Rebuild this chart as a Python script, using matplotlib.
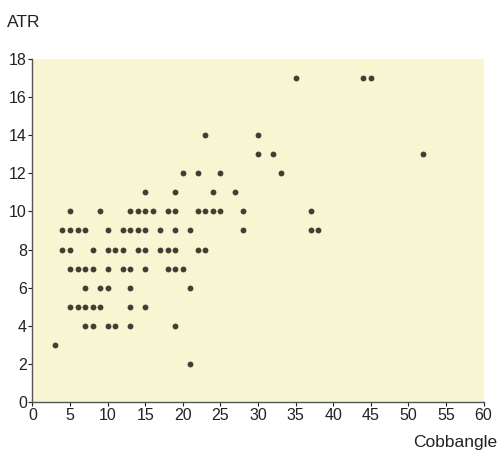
import matplotlib
matplotlib.use('Agg')
import matplotlib.pyplot as plt

plt.rcParams['font.family'] = ['Liberation Sans', 'DejaVu Sans']

# Cobb angle and ATR, grouped by ATR row
cobb_angle = [
    21,
    3,
    7, 8, 10, 11, 13, 19,
    5, 6, 7, 8, 9, 13, 15,
    7, 9, 10, 13, 21,
    5, 6, 7, 8, 10, 12, 13, 15, 18, 19, 20,
    4, 5, 8, 10, 11, 12, 14, 15, 17, 18, 19, 22, 23,
    4, 5, 6, 7, 10, 12, 13, 14, 15, 17, 19, 21, 28, 37, 38,
    5, 9, 13, 14, 15, 16, 18, 19, 22, 23, 24, 25, 28, 37,
    15, 19, 24, 27,
    20, 22, 25, 33,
    30, 32, 52,
    23, 30,
    35, 44, 45,
]
atr = (
    [2]
    + [3]
    + [4] * 6
    + [5] * 7
    + [6] * 5
    + [7] * 11
    + [8] * 13
    + [9] * 15
    + [10] * 14
    + [11] * 4
    + [12] * 4
    + [13] * 3
    + [14] * 2
    + [17] * 3
)

x_ticks = list(range(0, 61, 5))
y_ticks = list(range(0, 19, 2))

fig = plt.figure(figsize=(5.01, 4.61), dpi=100)
ax = fig.add_axes([0.0647, 0.1269, 0.9006, 0.7462])
ax.set_facecolor('#f7f5d2')

ax.plot(cobb_angle, atr, 'o', color='#3f3f33', markersize=4.2, markeredgewidth=0)

ax.set_xlim(0, 60)
ax.set_ylim(0, 18)
ax.set_xticks(x_ticks)
ax.set_yticks(y_ticks)
ax.tick_params(labelsize=11.5, length=3, width=0.8, pad=1, colors='#222222')

for side in ['top', 'right']:
    ax.spines[side].set_visible(False)
for side in ['left', 'bottom']:
    ax.spines[side].set_color('#555555')
    ax.spines[side].set_linewidth(1)

fig.text(0.014, 0.952, 'ATR', fontsize=12.5, va='center', ha='left', color='#222222')
fig.text(0.993, 0.040, 'Cobbangle', fontsize=12.5, va='center', ha='right', color='#222222')

fig.savefig('out.png', dpi=100)
